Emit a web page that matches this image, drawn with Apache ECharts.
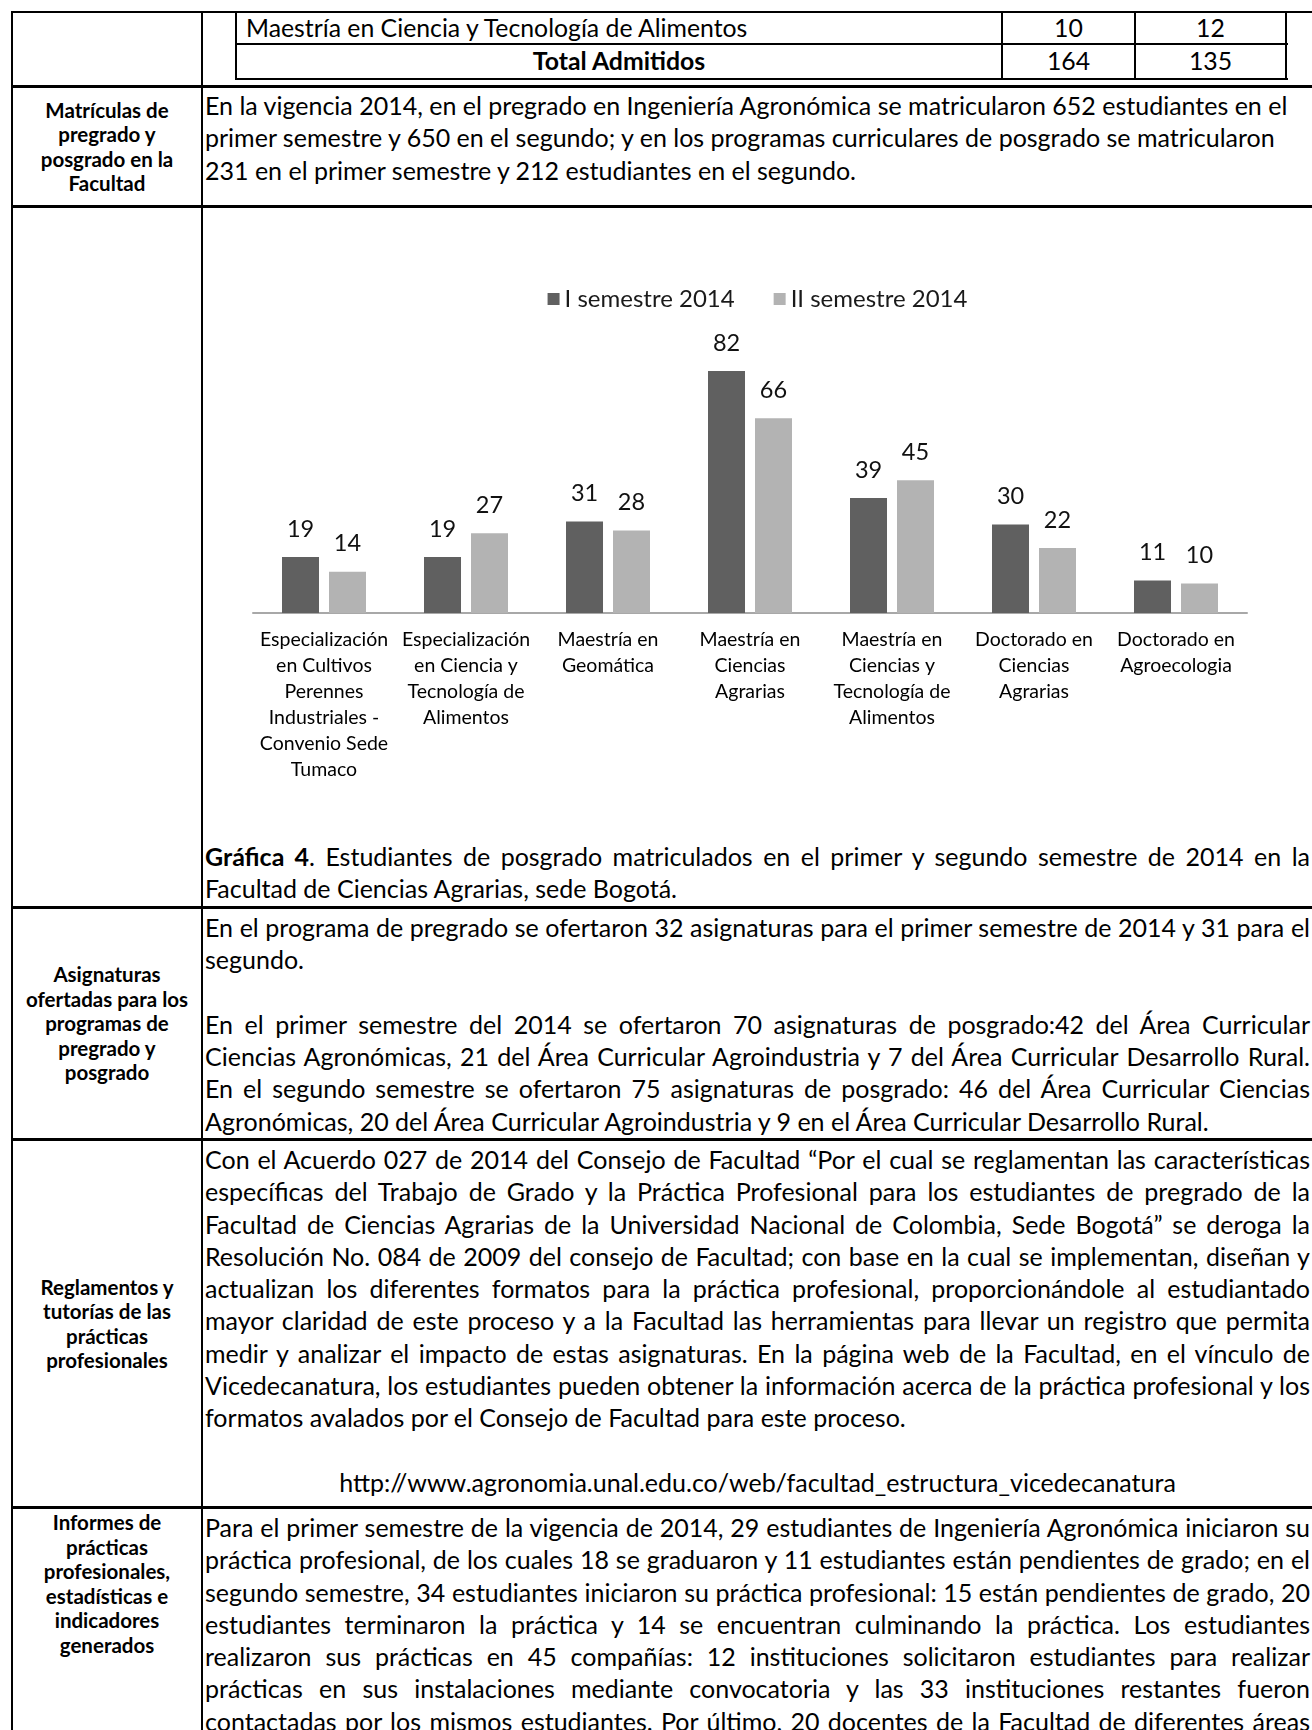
<!DOCTYPE html>
<html><head><meta charset="utf-8">
<script src="https://cdn.jsdelivr.net/npm/echarts@6/dist/echarts.min.js"></script>
<style>
html,body{margin:0;padding:0;background:#fff;}
body{width:1312px;height:1730px;position:relative;overflow:hidden;font-family:Lato,"Noto Sans",sans-serif;color:#000;}
.k{position:absolute;background:#000;}
.t{position:absolute;left:205px;width:1105px;font-size:25px;white-space:nowrap;}
.t div{height:32.3px;line-height:32.3px;}
.j{text-align:justify;text-align-last:justify;}
.c{text-align:center;}
.lab{position:absolute;left:13px;width:188px;display:flex;align-items:center;justify-content:center;text-align:center;font-weight:bold;font-size:20.5px;line-height:24.5px;}
.cell{position:absolute;font-size:24.8px;line-height:32px;height:32px;white-space:nowrap;}
#chart{position:absolute;left:203px;top:208px;width:1109px;height:620px;}
</style></head>
<body>
<!-- outer table lines -->
<div class="k" style="left:11px;top:11px;width:1301px;height:2px"></div>
<div class="k" style="left:11px;top:11px;width:2px;height:1719px"></div>
<div class="k" style="left:201px;top:11px;width:2px;height:1719px"></div>
<div class="k" style="left:11px;top:85px;width:1301px;height:3px"></div>
<div class="k" style="left:11px;top:205px;width:1301px;height:3px"></div>
<div class="k" style="left:11px;top:906px;width:1301px;height:3px"></div>
<div class="k" style="left:11px;top:1138px;width:1301px;height:3px"></div>
<div class="k" style="left:11px;top:1506px;width:1301px;height:3px"></div>
<!-- inner table -->
<div class="k" style="left:236px;top:43px;width:1052px;height:2px"></div>
<div class="k" style="left:236px;top:78px;width:1052px;height:2px"></div>
<div class="k" style="left:235px;top:11px;width:2px;height:69px"></div>
<div class="k" style="left:1001px;top:11px;width:2px;height:69px"></div>
<div class="k" style="left:1134px;top:11px;width:2px;height:69px"></div>
<div class="k" style="left:1285px;top:11px;width:2px;height:69px"></div>
<div class="cell" style="left:246px;top:12px;">Maestría en Ciencia y Tecnología de Alimentos</div>
<div class="cell c" style="left:1003px;top:12px;width:131px;">10</div>
<div class="cell c" style="left:1136px;top:12px;width:149px;">12</div>
<div class="cell c" style="left:237px;top:45px;width:764px;font-weight:bold;">Total Admitidos</div>
<div class="cell c" style="left:1003px;top:45px;width:131px;">164</div>
<div class="cell c" style="left:1136px;top:45px;width:149px;">135</div>

<!-- labels -->
<div class="lab" style="top:88px;height:117px;">Matrículas de<br>pregrado y<br>posgrado en la<br>Facultad</div>
<div class="lab" style="top:909px;height:229px;">Asignaturas<br>ofertadas para los<br>programas de<br>pregrado y<br>posgrado</div>
<div class="lab" style="top:1141px;height:365px;">Reglamentos y<br>tutorías de las<br>prácticas<br>profesionales</div>
<div class="lab" style="top:1510px;height:150px;align-items:flex-start;">Informes de<br>prácticas<br>profesionales,<br>estadísticas e<br>indicadores<br>generados</div>

<!-- body text -->
<div class="t" style="top:89px;">
<div>En la vigencia 2014, en el pregrado en Ingeniería Agronómica se matricularon 652 estudiantes en el</div>
<div>primer semestre y 650 en el segundo; y en los programas curriculares de posgrado se matricularon</div>
<div>231 en el primer semestre y 212 estudiantes en el segundo.</div>
</div>

<div id="chart"></div>

<div class="t" style="top:840px;">
<div class="j"><b>Gráfica 4</b>. Estudiantes de posgrado matriculados en el primer y segundo semestre de 2014 en la</div>
<div>Facultad de Ciencias Agrarias, sede Bogotá.</div>
</div>

<div class="t" style="top:911px;">
<div class="j">En el programa de pregrado se ofertaron 32 asignaturas para el primer semestre de 2014 y 31 para el</div>
<div>segundo.</div>
<div></div>
<div class="j">En el primer semestre del 2014 se ofertaron 70 asignaturas de posgrado:42 del Área Curricular</div>
<div class="j">Ciencias Agronómicas, 21 del Área Curricular Agroindustria y 7 del Área Curricular Desarrollo Rural.</div>
<div class="j">En el segundo semestre se ofertaron 75 asignaturas de posgrado: 46 del Área Curricular Ciencias</div>
<div>Agronómicas, 20 del Área Curricular Agroindustria y 9 en el Área Curricular Desarrollo Rural.</div>
</div>

<div class="t" style="top:1143px;">
<div class="j">Con el Acuerdo 027 de 2014 del Consejo de Facultad “Por el cual se reglamentan las características</div>
<div class="j">específicas del Trabajo de Grado y la Práctica Profesional para los estudiantes de pregrado de la</div>
<div class="j">Facultad de Ciencias Agrarias de la Universidad Nacional de Colombia, Sede Bogotá” se deroga la</div>
<div class="j">Resolución No. 084 de 2009 del consejo de Facultad; con base en la cual se implementan, diseñan y</div>
<div class="j">actualizan los diferentes formatos para la práctica profesional, proporcionándole al estudiantado</div>
<div class="j">mayor claridad de este proceso y a la Facultad las herramientas para llevar un registro que permita</div>
<div class="j">medir y analizar el impacto de estas asignaturas. En la página web de la Facultad, en el vínculo de</div>
<div class="j">Vicedecanatura, los estudiantes pueden obtener la información acerca de la práctica profesional y los</div>
<div>formatos avalados por el Consejo de Facultad para este proceso.</div>
<div></div>
<div class="c">http://www.agronomia.unal.edu.co/web/facultad_estructura_vicedecanatura</div>
</div>

<div class="t" style="top:1511px;">
<div class="j">Para el primer semestre de la vigencia de 2014, 29 estudiantes de Ingeniería Agronómica iniciaron su</div>
<div class="j">práctica profesional, de los cuales 18 se graduaron y 11 estudiantes están pendientes de grado; en el</div>
<div class="j">segundo semestre, 34 estudiantes iniciaron su práctica profesional: 15 están pendientes de grado, 20</div>
<div class="j">estudiantes terminaron la práctica y 14 se encuentran culminando la práctica. Los estudiantes</div>
<div class="j">realizaron sus prácticas en 45 compañías: 12 instituciones solicitaron estudiantes para realizar</div>
<div class="j">prácticas en sus instalaciones mediante convocatoria y las 33 instituciones restantes fueron</div>
<div class="j">contactadas por los mismos estudiantes. Por último, 20 docentes de la Facultad de diferentes áreas</div>
</div>

<script>
const categories = [
  "Especialización\nen Cultivos\nPerennes\nIndustriales -\nConvenio Sede\nTumaco",
  "Especialización\nen Ciencia y\nTecnología de\nAlimentos",
  "Maestría en\nGeomática",
  "Maestría en\nCiencias\nAgrarias",
  "Maestría en\nCiencias y\nTecnología de\nAlimentos",
  "Doctorado en\nCiencias\nAgrarias",
  "Doctorado en\nAgroecologia"
];
const seriesNames = ["I semestre 2014", "II semestre 2014"];
const semestre1 = [19, 19, 31, 82, 39, 30, 11];
const semestre2 = [14, 27, 28, 66, 45, 22, 10];
const seriesColors = ["#606060", "#b3b3b3"];

const chart = echarts.init(document.getElementById('chart'), null, {renderer: 'canvas'});
const labelStyle = {show: true, position: 'top', distance: 15, fontFamily: 'Lato', fontSize: 23.5, lineHeight: 26, color: '#111'};
chart.setOption({
  animation: false,
  legend: {
    data: seriesNames, top: 73, left: 'center', icon: 'rect',
    itemWidth: 12, itemHeight: 12, itemGap: 39,
    textStyle: {fontFamily: 'Lato', fontSize: 24, lineHeight: 26, color: '#1a1a1a'}
  },
  grid: {left: 50, right: 65, top: 139.5, bottom: 215},
  xAxis: {
    type: 'category', data: categories,
    axisLine: {lineStyle: {color: '#a8a8a8', width: 2}},
    axisTick: {show: false},
    axisLabel: {interval: 0, margin: 14, fontFamily: 'Lato', fontSize: 19.5, lineHeight: 26, color: '#000'}
  },
  yAxis: {type: 'value', min: 0, max: 90, show: false, splitLine: {show: false}},
  series: [
    {name: seriesNames[0], type: 'bar', data: semestre1, barWidth: 37, barGap: '27%',
     itemStyle: {color: seriesColors[0]}, label: labelStyle},
    {name: seriesNames[1], type: 'bar', data: semestre2, barWidth: 37, barGap: '27%',
     itemStyle: {color: seriesColors[1]}, label: labelStyle}
  ]
});
</script>
</body></html>
